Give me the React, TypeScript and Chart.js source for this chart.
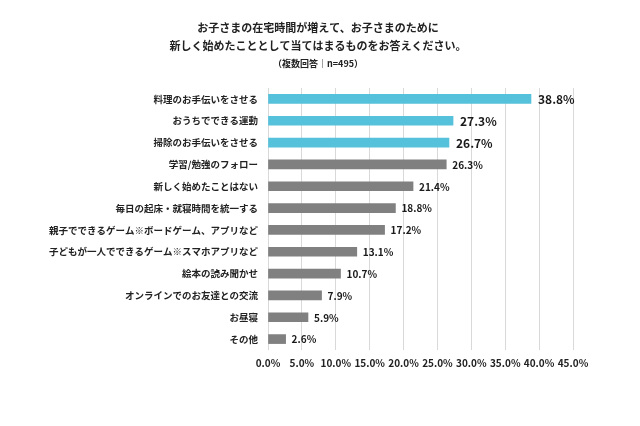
import React, { useEffect, useRef } from "react";
import { Chart, registerables } from "chart.js";

Chart.register(...registerables);

const categories = [
  "料理のお手伝いをさせる",
  "おうちでできる運動",
  "掃除のお手伝いをさせる",
  "学習/勉強のフォロー",
  "新しく始めたことはない",
  "毎日の起床・就寝時間を統一する",
  "親子でできるゲーム※ボードゲーム、アプリなど",
  "子どもが一人でできるゲーム※スマホアプリなど",
  "絵本の読み聞かせ",
  "オンラインでのお友達との交流",
  "お昼寝",
  "その他",
];
const values = [38.8, 27.3, 26.7, 26.3, 21.4, 18.8, 17.2, 13.1, 10.7, 7.9, 5.9, 2.6];
const highlightCount = 3;
const titleLines = [
  "お子さまの在宅時間が増えて、お子さまのために",
  "新しく始めたこととして当てはまるものをお答えください。",
];
const subtitleText = "（複数回答｜n=495）";
const xMax = 45;
const xStep = 5;

const FONT = "'Noto Sans CJK JP', 'Noto Sans', sans-serif";
const BLUE = "#56C1DA";
const GRAY = "#808080";

const titlePlugin = {
  id: "customTitle",
  afterDraw(chart: any) {
    const ctx = chart.ctx;
    ctx.save();
    ctx.fillStyle = "#222";
    ctx.textAlign = "center";
    ctx.textBaseline = "middle";
    ctx.font = `bold 11px ${FONT}`;
    ctx.fillText(titleLines[0], 318, 28);
    ctx.fillText(titleLines[1], 318, 46);
    ctx.font = `bold 9px ${FONT}`;
    ctx.fillText(subtitleText, 318, 64);
    ctx.restore();
  },
};

const labelPlugin = {
  id: "valueLabels",
  afterDatasetsDraw(chart: any) {
    const ctx = chart.ctx;
    const meta = chart.getDatasetMeta(0);
    ctx.save();
    ctx.fillStyle = "#1a1a1a";
    ctx.textAlign = "left";
    ctx.textBaseline = "middle";
    meta.data.forEach((bar: any, i: number) => {
      const big = i < highlightCount;
      ctx.font = `bold ${big ? 12 : 10}px ${FONT}`;
      ctx.fillText(values[i].toFixed(1) + "%", bar.x + (big ? 7 : 6), bar.y + 0.5);
    });
    ctx.restore();
  },
};

export default function App() {
  const ref = useRef<HTMLCanvasElement>(null);
  useEffect(() => {
    document.body.style.margin = "0";
    const chart = new Chart(ref.current!, {
      type: "bar",
      data: {
        labels: categories,
        datasets: [
          {
            data: values,
            backgroundColor: values.map((_, i) => (i < highlightCount ? BLUE : GRAY)),
            barThickness: 9,
          },
        ],
      },
      options: {
        indexAxis: "y",
        animation: false,
        responsive: false,
        layout: { padding: { top: 88, right: 67, left: 0, bottom: 0 } },
        plugins: {
          legend: { display: false },
          tooltip: { enabled: false },
          title: { display: false },
        },
        scales: {
          x: {
            min: 0,
            max: xMax,
            ticks: {
              stepSize: xStep,
              padding: 7,
              color: "#222",
              autoSkip: false,
              maxRotation: 0,
              minRotation: 0,
              font: { family: FONT, size: 10, weight: "bold" },
              callback: (v: any) => Number(v).toFixed(1) + "%",
            },
            grid: { color: "#d9d9d9", lineWidth: 1, drawTicks: false },
            border: { display: false },
            afterFit: (s: any) => {
              s.height = 76;
            },
          },
          y: {
            ticks: {
              padding: 10,
              color: "#222",
              autoSkip: false,
              font: { family: FONT, size: 9.5, weight: "bold" },
            },
            grid: { display: false, drawTicks: false },
            border: { display: false },
            afterFit: (s: any) => {
              s.width = 268;
            },
          },
        },
      },
      plugins: [titlePlugin, labelPlugin],
    });
    return () => chart.destroy();
  }, []);
  return (
    <div style={{ width: 640, height: 426, background: "#fff" }}>
      <canvas ref={ref} width={640} height={426} />
    </div>
  );
}
